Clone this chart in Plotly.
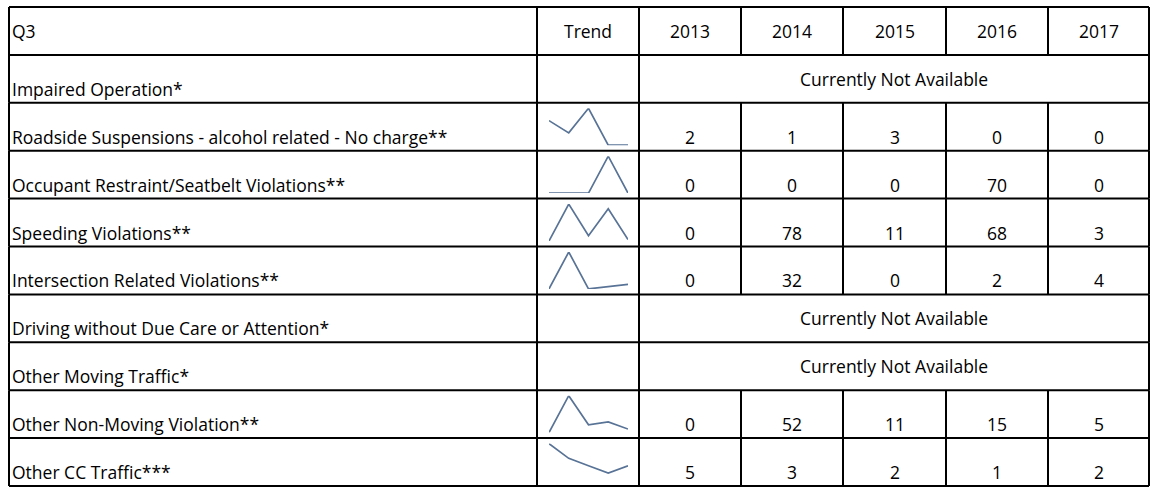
import plotly.graph_objects as go

# ---------------- data ----------------
title_cell = "Q3"
trend_header = "Trend"
years = ["2013", "2014", "2015", "2016", "2017"]
categories = [
    "Impaired Operation*",
    "Roadside Suspensions - alcohol related - No charge**",
    "Occupant Restraint/Seatbelt Violations**",
    "Speeding Violations**",
    "Intersection Related Violations**",
    "Driving without Due Care or Attention*",
    "Other Moving Traffic*",
    "Other Non-Moving Violation**",
    "Other CC Traffic***",
]
impaired = None
roadside = [2, 1, 3, 0, 0]
seatbelt = [0, 0, 0, 70, 0]
speeding = [0, 78, 11, 68, 3]
intersection = [0, 32, 0, 2, 4]
due_care = None
other_moving = None
non_moving = [0, 52, 11, 15, 5]
other_cc = [5, 3, 2, 1, 2]
series = [impaired, roadside, seatbelt, speeding, intersection,
          due_care, other_moving, non_moving, other_cc]
na_text = "Currently Not Available"

# ---------------- layout constants ----------------
W, H = 1152, 487
col_edges = [9, 537, 639, 741, 843, 946, 1048, 1149]
top, bottom = 7, 486
n_rows = len(categories) + 1
row_h = (bottom - top) / n_rows
row_edges = [top + i * row_h for i in range(n_rows + 1)]
FONT = "Open Sans"
FS = 17.5
LINE_C = "black"
LINE_W = 2
SPARK_C = "#587396"

fig = go.Figure()
fig.add_trace(go.Scatter(x=[0, W], y=[0, H], mode="markers",
                         marker=dict(opacity=0), hoverinfo="skip", showlegend=False))

shapes = []
# horizontal lines
for y in row_edges:
    shapes.append(dict(type="line", xref="x", yref="y", x0=col_edges[0], x1=col_edges[-1],
                       y0=y, y1=y, line=dict(color=LINE_C, width=LINE_W)))
# vertical lines
for ci, x in enumerate(col_edges):
    inner_year = 3 <= ci <= len(col_edges) - 2
    for ri in range(n_rows):
        if inner_year and ri >= 1 and series[ri - 1] is None:
            continue
        shapes.append(dict(type="line", xref="x", yref="y", x0=x, x1=x,
                           y0=row_edges[ri], y1=row_edges[ri + 1],
                           line=dict(color=LINE_C, width=LINE_W)))

annotations = []
def txt(x, y, s, xanchor="center"):
    annotations.append(dict(x=x, y=y, xref="x", yref="y", text=s, showarrow=False,
                            xanchor=xanchor, yanchor="middle",
                            font=dict(family=FONT, size=FS, color="black")))

# header
hy = (row_edges[0] + row_edges[1]) / 2
txt(col_edges[0] + 1, hy, title_cell, "left")
txt((col_edges[1] + col_edges[2]) / 2, hy, trend_header)
for j, yr in enumerate(years):
    txt((col_edges[2 + j] + col_edges[3 + j]) / 2, hy, yr)

for i, (cat, vals) in enumerate(zip(categories, series)):
    rt, rb = row_edges[i + 1], row_edges[i + 2]
    yb = rb - 14
    txt(col_edges[0] + 1, yb, cat, "left")
    if vals is None:
        txt((col_edges[2] + col_edges[-1]) / 2, (rt + rb) / 2, na_text)
        continue
    for j, v in enumerate(vals):
        txt((col_edges[2 + j] + col_edges[3 + j]) / 2, yb, str(v))

# sparklines on their own small axes
k = 2
for i, vals in enumerate(series):
    if vals is None:
        continue
    rt, rb = row_edges[i + 1], row_edges[i + 2]
    xd = [(col_edges[1] + 12) / W, (col_edges[2] - 11) / W]
    yd = [(H - (rb - 5.5)) / H, (H - (rt + 5.5)) / H]
    fig.add_trace(go.Scatter(x=list(range(len(years))), y=vals, mode="lines",
                             line=dict(color=SPARK_C, width=1.7),
                             xaxis=f"x{k}", yaxis=f"y{k}", hoverinfo="skip",
                             showlegend=False))
    fig.layout[f"xaxis{k}"] = dict(domain=xd, range=[0, len(years) - 1], visible=False,
                                   anchor=f"y{k}", fixedrange=True)
    fig.layout[f"yaxis{k}"] = dict(domain=yd, range=[0, max(vals)], visible=False,
                                   anchor=f"x{k}", fixedrange=True)
    k += 1

fig.update_layout(
    width=W, height=H, margin=dict(l=0, r=0, t=0, b=0),
    paper_bgcolor="white", plot_bgcolor="white",
    xaxis=dict(range=[0, W], visible=False, domain=[0, 1], fixedrange=True),
    yaxis=dict(range=[H, 0], visible=False, domain=[0, 1], fixedrange=True),
    shapes=shapes, annotations=annotations, showlegend=False,
)
fig.write_html("out.html", config={"displayModeBar": False},
               post_script="document.body.style.margin='0';document.body.style.overflow='hidden';")
